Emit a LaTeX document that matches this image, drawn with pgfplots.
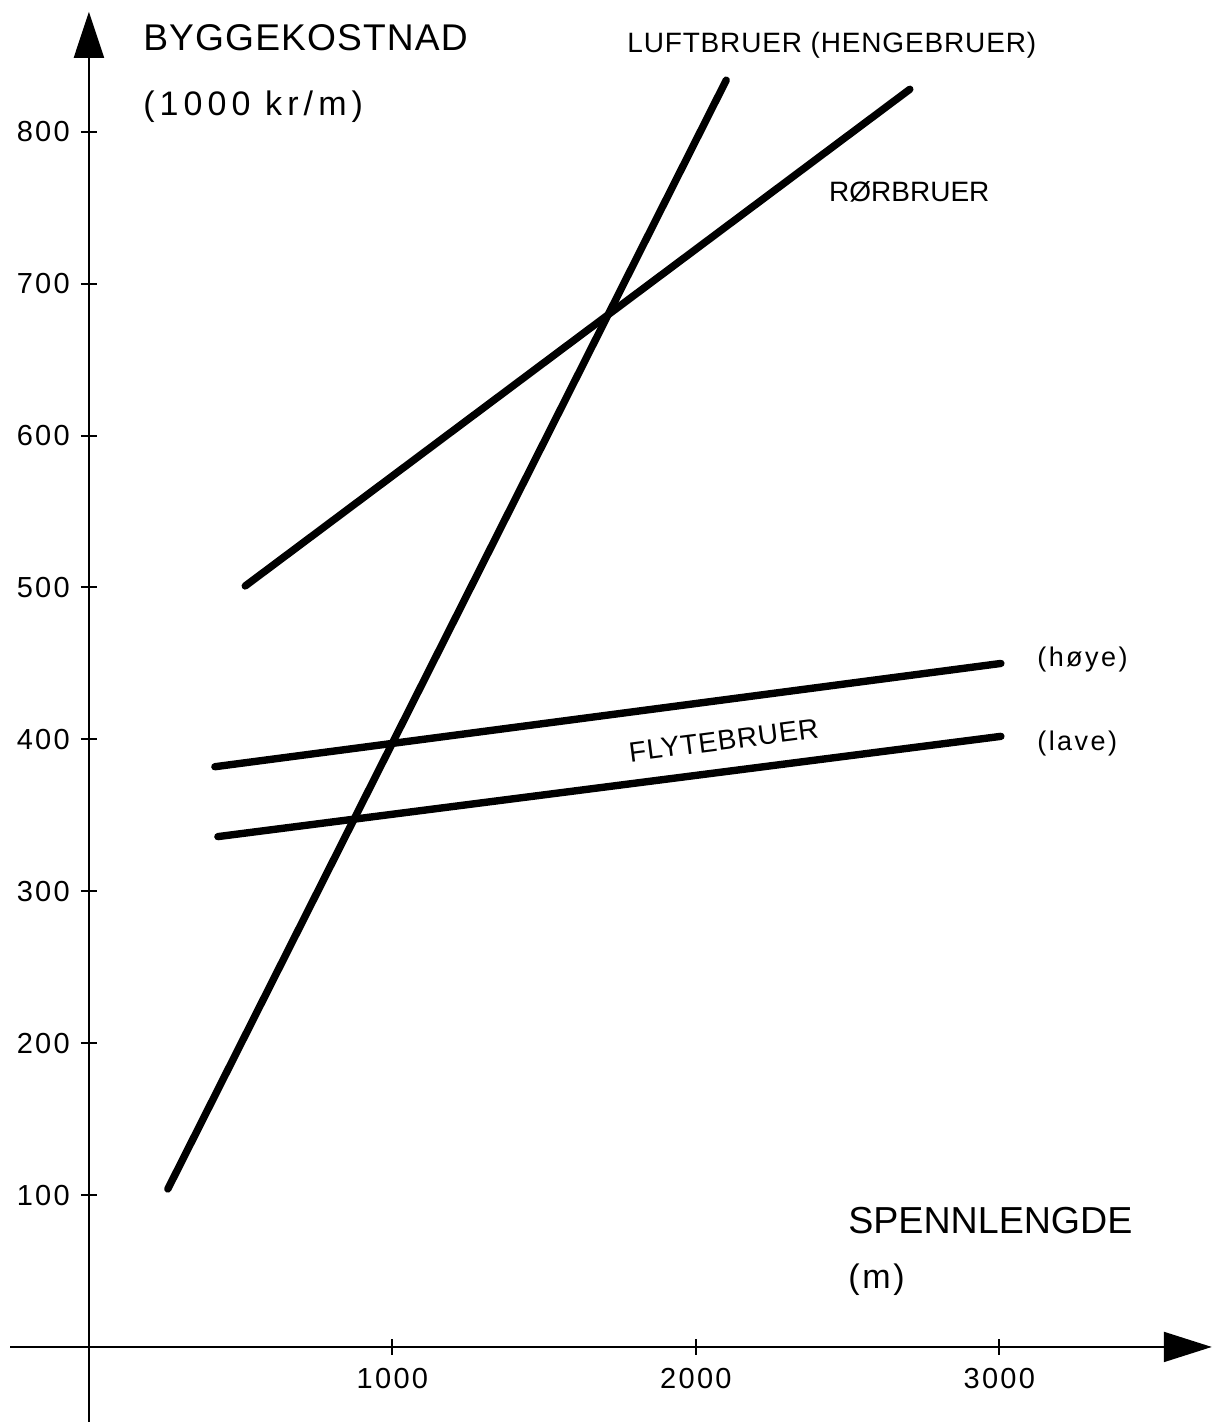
\documentclass[border=0pt]{standalone}
\usepackage{pgfplots}
\pgfplotsset{compat=1.18}
\usepackage{fontspec}
\setmainfont{Liberation Sans}
\usetikzlibrary{arrows.meta}
\begin{document}
\begin{tikzpicture}
\begin{axis}[
  scale only axis, width=600.9pt, height=705.1pt,
  xmin=-260, xmax=3700, ymin=-49.4, ymax=879,
  axis lines=middle,
  axis line style={line width=1pt, black},
  x axis line style={-{Triangle[length=24pt,width=15pt]}},
  y axis line style={-{Triangle[length=23pt,width=15pt]}},
  xtick={1000,2000,3000}, ytick={100,200,...,800},
  tick align=center, major tick length=8pt,
  tick style={line width=1pt, black},
  /pgf/number format/assume math mode=true,
  /pgf/number format/1000 sep={},
  ticklabel style={font=\fontsize{14.5}{16}\selectfont\addfontfeatures{LetterSpace=8}},
  xticklabel style={yshift=-3pt},
  yticklabel style={xshift=-2pt},
  clip=false,
]
\addplot[line width=3.7pt, line cap=round] coordinates {(260,104) (2100,834)};
\addplot[line width=3.7pt, line cap=round] coordinates {(515,501) (2705,828)};
\addplot[line width=3.7pt, line cap=round] coordinates {(415,382) (3005,450)};
\addplot[line width=3.7pt, line cap=round] coordinates {(425,336) (3005,402)};

\node[anchor=base west, inner sep=0pt, font=\fontsize{18.6}{20}\selectfont\addfontfeatures{LetterSpace=3}] at (axis cs:178,853.8) {BYGGEKOSTNAD};
\node[anchor=base west, inner sep=0pt, font=\fontsize{17}{20}\selectfont\addfontfeatures{LetterSpace=15}] at (axis cs:178,811) {(1000 kr/m)};
\node[anchor=base west, inner sep=0pt, font=\fontsize{14}{16}\selectfont\addfontfeatures{LetterSpace=3}] at (axis cs:1773,852.5) {LUFTBRUER (HENGEBRUER)};
\node[anchor=base west, inner sep=0pt, font=\fontsize{14}{16}\selectfont] at (axis cs:2438,753.8) {RØRBRUER};
\node[anchor=base west, inner sep=0pt, font=\fontsize{13.5}{15}\selectfont\addfontfeatures{LetterSpace=9}] at (axis cs:3124,448.3) {(høye)};
\node[anchor=base west, inner sep=0pt, font=\fontsize{13.5}{15}\selectfont\addfontfeatures{LetterSpace=9}] at (axis cs:3124,393) {(lave)};
\node[anchor=base west, inner sep=0pt, rotate=7.4, font=\fontsize{14}{16}\selectfont\addfontfeatures{LetterSpace=3}] at (axis cs:1783,385) {FLYTEBRUER};
\node[anchor=base west, inner sep=0pt, font=\fontsize{18.8}{22}\selectfont] at (axis cs:2501,75) {SPENNLENGDE};
\node[anchor=base west, inner sep=0pt, font=\fontsize{17}{20}\selectfont\addfontfeatures{LetterSpace=8}] at (axis cs:2501,38.8) {(m)};

\coordinate (bbsw) at (axis cs:-293,-49.4);
\coordinate (bbne) at (axis cs:3743,886.8);
\end{axis}
\pgfresetboundingbox
\path[use as bounding box] (bbsw) rectangle (bbne);
\end{tikzpicture}
\end{document}
